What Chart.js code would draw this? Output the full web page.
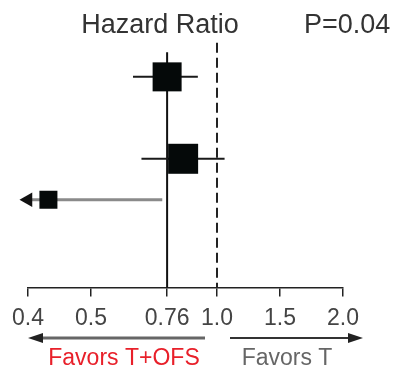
<!DOCTYPE html>
<html><head><meta charset="utf-8">
<script src="https://cdn.jsdelivr.net/npm/chart.js@4"></script>
<style>
html,body{margin:0;padding:0;background:#fff;}
#wrap{width:399px;height:367px;position:relative;}
</style>
</head><body>
<div id="wrap"><canvas id="c"></canvas></div>
<script>
// axis ticks
const tickValues=[0.4,0.5,0.76,1.0,1.5,2.0];
const tickLabels=["0.4","0.5","0.76","1.0","1.5","2.0"];
// forest rows (row 3 runs off the left edge -> arrow)
const rowY=[1,2,2.5];
const hr=[0.76,0.83,0.43];
const lower=[0.63,0.66,0.40];
const upper=[0.90,1.05,0.74];
const boxSide=[29,30,18];
const refHR=0.76;
const nullHR=1.0;
const title="Hazard Ratio";
const pText="P=0.04";
const favLeft="Favors T+OFS";
const favRight="Favors T";

const FONT="'Liberation Sans', Arial, sans-serif";

// schematic axis: evenly spaced stops, log inside each segment, 0.5-1.0 gets two units
function pos(v){
  const st=[0.4,0.5,1.0,1.5,2.0],sp=[0,1,3,4,5];
  let i=0;
  while(i<st.length-2&&v>st[i+1])i++;
  return sp[i]+(sp[i+1]-sp[i])*Math.log(v/st[i])/Math.log(st[i+1]/st[i]);
}

const ROW_TOP=0.55,ROW_BOTTOM=3.57;

const datasets=[];
// boxes (index 0 draws on top)
datasets.push({
  data:hr.map((v,i)=>({x:pos(v),y:rowY[i]})),
  pointStyle:"rect",
  pointRadius:boxSide.map(s=>s/Math.SQRT2),
  pointHoverRadius:boxSide.map(s=>s/Math.SQRT2),
  backgroundColor:"#050909",borderColor:"#050909",borderWidth:0,
  showLine:false
});
// whiskers
hr.forEach((v,i)=>{
  const offLeft=i===hr.length-1;
  datasets.push({
    data:[{x:pos(lower[i]),y:rowY[i]},{x:pos(upper[i]),y:rowY[i]}],
    showLine:true,
    borderColor:offLeft?"#8a8a8a":"#1a1a1a",
    borderWidth:offLeft?3:2,
    pointStyle:"triangle",
    pointRotation:270,
    pointRadius:offLeft?[8.5,0]:0,
    backgroundColor:"#111",pointBorderWidth:0
  });
});
// reference line at pooled HR
datasets.push({
  data:[{x:pos(refHR),y:0.7},{x:pos(refHR),y:ROW_BOTTOM}],
  showLine:true,borderColor:"#111",borderWidth:2,pointRadius:0
});
// null line
datasets.push({
  data:[{x:pos(nullHR),y:0.585},{x:pos(nullHR),y:ROW_BOTTOM}],
  showLine:true,borderColor:"#222",borderWidth:2,borderDash:[10,5],pointRadius:0
});
datasets.forEach(d=>{d.clip=false;});

const textPlugin={
  id:"texts",
  afterDraw(chart){
    const ctx=chart.ctx,xs=chart.scales.x;
    const left=xs.getPixelForValue(0),right=xs.getPixelForValue(5),nul=xs.getPixelForValue(pos(nullHR));
    ctx.save();
    ctx.fillStyle="#333";
    ctx.font="27px "+FONT;
    ctx.textBaseline="alphabetic";
    ctx.textAlign="center";
    ctx.fillText(title,160,33);
    ctx.textAlign="left";
    ctx.fillText(pText,304,33);
    // direction arrows
    const ay=338;
    ctx.strokeStyle="#666";ctx.fillStyle="#222";ctx.lineWidth=3;
    ctx.beginPath();ctx.moveTo(left+12,ay);ctx.lineTo(nul-12,ay);ctx.stroke();
    ctx.beginPath();ctx.moveTo(left,ay);ctx.lineTo(left+15,ay-5);ctx.lineTo(left+15,ay+5);ctx.closePath();ctx.fill();
    ctx.strokeStyle="#333";ctx.lineWidth=2;
    ctx.beginPath();ctx.moveTo(nul+13,ay);ctx.lineTo(right+6,ay);ctx.stroke();
    ctx.beginPath();ctx.moveTo(right+20,ay);ctx.lineTo(right+5,ay-5);ctx.lineTo(right+5,ay+5);ctx.closePath();ctx.fill();
    ctx.font="23px "+FONT;
    ctx.textAlign="center";
    ctx.fillStyle="#e8202a";
    ctx.fillText(favLeft,124,365);
    ctx.fillStyle="#666";
    ctx.fillText(favRight,287,365);
    ctx.restore();
  }
};

new Chart(document.getElementById("c"),{
  type:"scatter",
  data:{datasets},
  plugins:[textPlugin],
  options:{
    responsive:true,maintainAspectRatio:false,animation:false,
    layout:{padding:{left:28,right:56,top:40,bottom:27}},
    plugins:{legend:{display:false},tooltip:{enabled:false}},
    scales:{
      x:{
        type:"linear",min:0,max:5,
        afterBuildTicks:s=>{s.ticks=tickValues.map(v=>({value:pos(v)}));},
        ticks:{
          autoSkip:false,maxRotation:0,padding:8,
          color:"#444",font:{family:FONT,size:23},
          callback:(v,i)=>tickLabels[i]
        },
        grid:{drawOnChartArea:false,tickLength:9,color:"#222",lineWidth:1.5},
        border:{display:true,color:"#222",width:1.5}
      },
      y:{type:"linear",min:ROW_TOP,max:ROW_BOTTOM,reverse:true,display:false}
    }
  }
});
</script>
</body></html>
